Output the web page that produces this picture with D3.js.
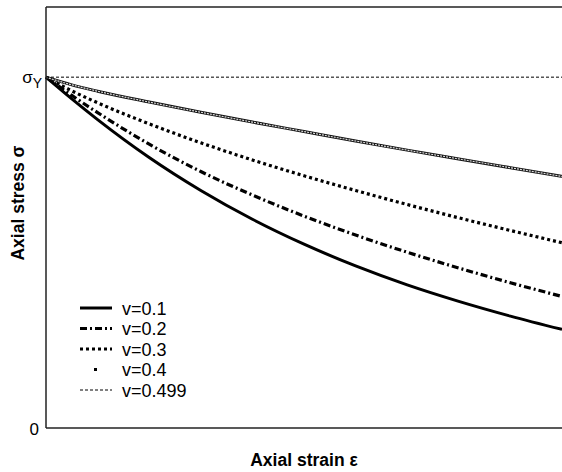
<!DOCTYPE html>
<html>
<head>
<meta charset="utf-8">
<script src="https://cdn.jsdelivr.net/npm/d3@7"></script>
<style>
  body { margin: 0; background: #fff; }
  svg { display: block; font-family: Arial, "Liberation Sans", sans-serif; }
</style>
</head>
<body>
<div id="chart"></div>
<script>
// strain (normalised, 0..1) and stress / sigma_Y for each Poisson ratio
const strain = [0, 0.05, 0.1, 0.2, 0.3, 0.4, 0.5, 0.6, 0.7, 0.8, 0.9, 1.0];
const nu01  = [1, 0.938, 0.879, 0.771, 0.677, 0.595, 0.524, 0.462, 0.408, 0.361, 0.319, 0.281];
const nu02  = [1, 0.948, 0.899, 0.809, 0.731, 0.664, 0.604, 0.550, 0.501, 0.456, 0.414, 0.375];
const nu03  = [1, 0.961, 0.927, 0.867, 0.813, 0.764, 0.719, 0.677, 0.637, 0.599, 0.563, 0.528];
const nu04  = [1, 0.978, 0.960, 0.929, 0.900, 0.872, 0.845, 0.818, 0.792, 0.767, 0.742, 0.717];
const nu0499 = [1, 1, 1, 1, 1, 1, 1, 1, 1, 1, 1, 1];
const seriesLabels = ["v=0.1", "v=0.2", "v=0.3", "v=0.4", "v=0.499"];

const W = 562, H = 472;
const m = { left: 46, top: 7, right: 0, bottom: 44 };

const x = d3.scaleLinear().domain([0, 1]).range([m.left, W - m.right]);
const y = d3.scaleLinear().domain([0, 1.2]).range([H - m.bottom, m.top]);

const svg = d3.select("#chart").append("svg").attr("width", W).attr("height", H);

// line styles per series (legend drawn the same way)
const styles = [
  { width: 3,   dash: null },
  { width: 3.2, dash: "7,3,2,3" },
  { width: 3.2, dash: "3,3" },
  { width: 3,   dash: null, hollow: true },
  { width: 1,   dash: "3,2" },
];
const series = [nu01, nu02, nu03, nu04, nu0499];

const line = d3.line().x((d, i) => x(strain[i])).y(d => y(d)).curve(d3.curveMonotoneX);

function drawPath(g, d, s) {
  if (s.hollow) {
    g.append("path").attr("d", d).attr("fill", "none")
      .attr("stroke", "#111").attr("stroke-width", s.width);
    g.append("path").attr("d", d).attr("fill", "none")
      .attr("stroke", "#ddd").attr("stroke-width", 1.2).attr("stroke-dasharray", "2,1");
  } else {
    g.append("path").attr("d", d).attr("fill", "none")
      .attr("stroke", "#000").attr("stroke-width", s.width)
      .attr("stroke-dasharray", s.dash);
  }
}

const plot = svg.append("g");
series.forEach((vals, i) => drawPath(plot, line(vals), styles[i]));

// frame: top border, left and bottom axes
svg.append("line").attr("x1", x(0)).attr("x2", W).attr("y1", m.top).attr("y2", m.top)
  .attr("stroke", "#222").attr("stroke-width", 1.5);
svg.append("line").attr("x1", x(0)).attr("x2", x(0)).attr("y1", m.top).attr("y2", y(0))
  .attr("stroke", "#222").attr("stroke-width", 1.5);
svg.append("line").attr("x1", x(0)).attr("x2", W).attr("y1", y(0)).attr("y2", y(0))
  .attr("stroke", "#222").attr("stroke-width", 1.5);

// y tick labels
const ty = svg.append("text").attr("x", x(0) - 4).attr("y", y(1) + 6)
  .attr("text-anchor", "end").attr("font-size", 17);
ty.append("tspan").text("σ");
ty.append("tspan").attr("font-size", 14).attr("dy", 5).text("Y");
svg.append("text").attr("x", x(0) - 7).attr("y", y(0) + 7)
  .attr("text-anchor", "end").attr("font-size", 17).text("0");

// axis titles
svg.append("text").attr("x", (x(0) + W) / 2).attr("y", 466)
  .attr("text-anchor", "middle").attr("font-size", 17.5).attr("font-weight", "bold")
  .text("Axial strain ε");
svg.append("text").attr("transform", "translate(24,203) rotate(-90)")
  .attr("text-anchor", "middle").attr("font-size", 17.5).attr("font-weight", "bold")
  .text("Axial stress σ");

// legend
const legend = svg.append("g").attr("transform", "translate(80,308)");
seriesLabels.forEach((lab, i) => {
  const g = legend.append("g").attr("transform", `translate(0,${i * 20.5})`);
  if (i === 3) {
    g.append("rect").attr("x", 14).attr("y", -1.5).attr("width", 3).attr("height", 3).attr("fill", "#000");
  } else {
    drawPath(g, "M0,0H32", styles[i]);
  }
  g.append("text").attr("x", 42).attr("y", 6.5).attr("font-size", 18).text(lab);
});
</script>
</body>
</html>
